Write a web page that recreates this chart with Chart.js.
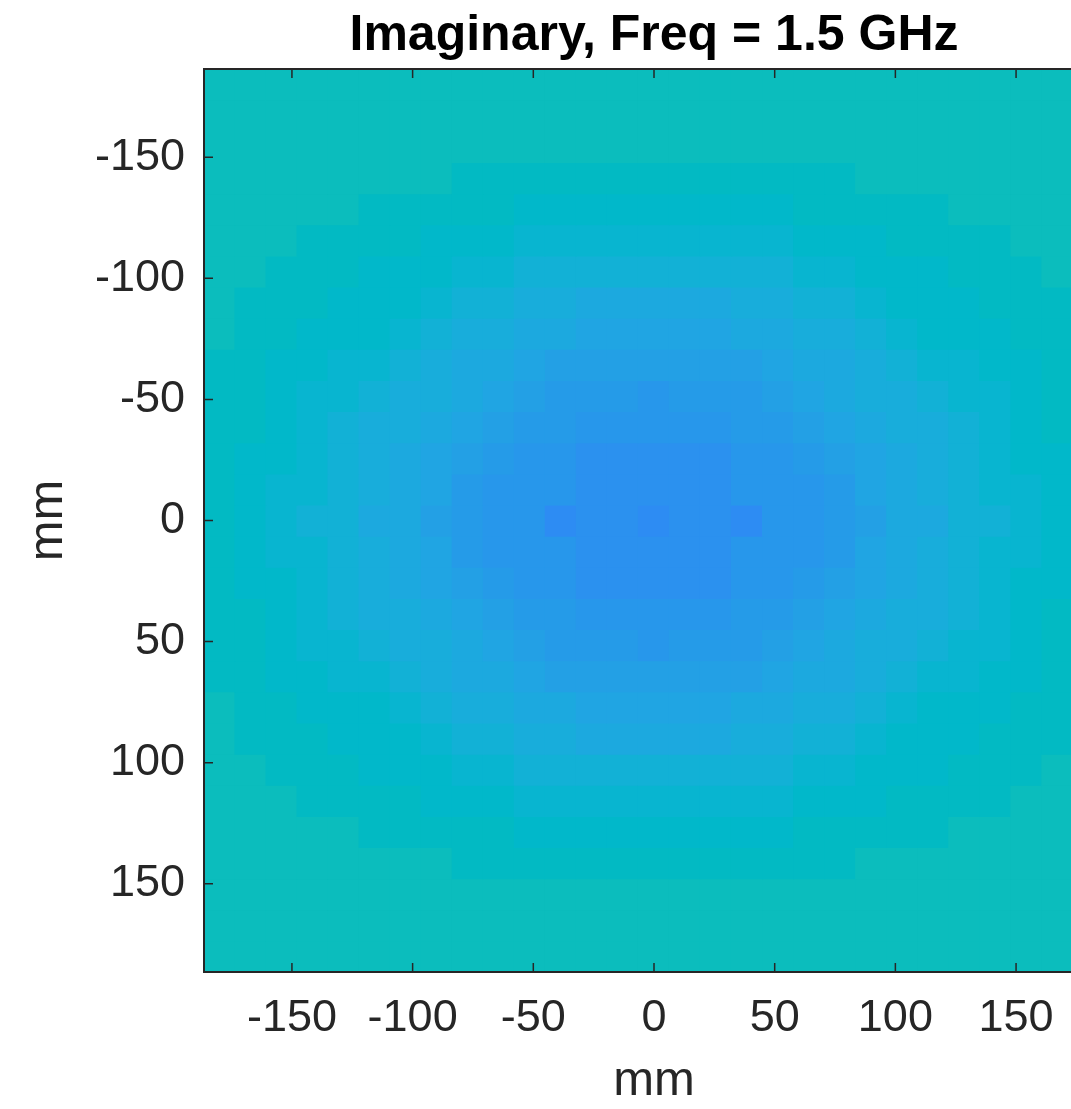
<!DOCTYPE html>
<html>
<head>
<meta charset="utf-8">
<title>Imaginary, Freq = 1.5 GHz</title>
<script src="https://cdn.jsdelivr.net/npm/chart.js@4.4.1/dist/chart.umd.min.js"></script>
<style>
  html, body { margin: 0; padding: 0; overflow: hidden; background: #ffffff; }
  #wrap { width: 1120px; height: 1109px; position: relative; }
</style>
</head>
<body>
<div id="wrap"><canvas id="chart"></canvas></div>
<script>
// grid centres (mm), same along x and y
const xPos = [-180, -167.143, -154.286, -141.429, -128.571, -115.714, -102.857, -90, -77.143, -64.286,
  -51.429, -38.571, -25.714, -12.857, 0, 12.857, 25.714, 38.571, 51.429, 64.286,
  77.143, 90, 102.857, 115.714, 128.571, 141.429, 154.286, 167.143, 180];
const yPos = xPos.slice();

const tickValues = [-150, -100, -50, 0, 50, 100, 150];

// colour index (parula, 1..64) of each cell; rows top to bottom
const imagLevel = [
  [32,32,32,32,32,32,32,32,32,32,32,32,32,32,32,32,32,32,32,32,32,32,32,32,32,32,32,32,32],
  [32,32,32,32,32,32,32,32,32,32,32,32,32,32,32,32,32,32,32,32,32,32,32,32,32,32,32,32,32],
  [32,32,32,32,32,32,32,32,32,32,32,32,32,32,32,32,32,32,32,32,32,32,32,32,32,32,32,32,32],
  [32,32,32,32,32,32,32,32,31,31,31,31,31,31,31,31,31,31,31,31,31,32,32,32,32,32,32,32,32],
  [32,32,32,32,32,31,31,31,31,31,30,30,30,30,30,30,30,30,30,31,31,31,31,31,32,32,32,32,32],
  [32,32,32,31,31,31,31,30,30,30,29,29,29,29,29,29,29,29,29,30,30,30,31,31,31,31,32,32,32],
  [32,32,31,31,31,30,30,30,29,29,28,28,28,28,28,28,28,28,28,29,29,30,30,30,31,31,31,32,32],
  [32,31,31,31,30,30,30,29,28,28,27,27,26,26,26,26,26,27,27,28,28,29,30,30,30,31,31,31,32],
  [32,31,31,30,30,30,29,28,27,27,26,26,25,25,25,25,25,26,26,27,27,28,29,30,30,30,31,31,32],
  [31,31,30,30,29,29,28,27,26,26,25,24,24,24,24,24,24,24,25,26,26,27,28,29,29,30,30,31,31],
  [31,31,30,29,29,28,27,27,26,25,24,23,23,23,22,23,23,23,24,25,26,27,27,28,29,29,30,31,31],
  [31,31,30,29,28,27,27,26,25,24,23,23,22,22,22,22,22,23,23,24,25,26,27,27,28,29,30,31,31],
  [31,30,30,29,28,27,26,25,24,23,22,22,21,21,21,21,21,22,22,23,24,25,26,27,28,29,30,30,31],
  [31,30,29,29,28,27,26,25,23,22,22,22,21,21,21,21,21,22,22,22,23,25,26,27,28,29,29,30,31],
  [31,30,29,28,28,26,26,24,23,22,22,20,21,21,20,21,21,20,22,22,23,24,26,26,28,28,29,30,31],
  [31,30,29,29,28,27,26,25,23,22,22,22,21,21,21,21,21,22,22,22,23,25,26,27,28,29,29,30,31],
  [31,30,30,29,28,27,26,25,24,23,22,22,21,21,21,21,21,22,22,23,24,25,26,27,28,29,30,30,31],
  [31,31,30,29,28,27,27,26,25,24,23,23,22,22,22,22,22,23,23,24,25,26,27,27,28,29,30,31,31],
  [31,31,30,29,29,28,27,27,26,25,24,23,23,23,22,23,23,23,24,25,26,27,27,28,29,29,30,31,31],
  [31,31,30,30,29,29,28,27,26,26,25,24,24,24,24,24,24,24,25,26,26,27,28,29,29,30,30,31,31],
  [32,31,31,30,30,30,29,28,27,27,26,26,25,25,25,25,25,26,26,27,27,28,29,30,30,30,31,31,32],
  [32,31,31,31,30,30,30,29,28,28,27,27,26,26,26,26,26,27,27,28,28,29,30,30,30,31,31,31,32],
  [32,32,31,31,31,30,30,30,29,29,28,28,28,28,28,28,28,28,28,29,29,30,30,30,31,31,31,32,32],
  [32,32,32,31,31,31,31,30,30,30,29,29,29,29,29,29,29,29,29,30,30,30,31,31,31,31,32,32,32],
  [32,32,32,32,32,31,31,31,31,31,30,30,30,30,30,30,30,30,30,31,31,31,31,31,32,32,32,32,32],
  [32,32,32,32,32,32,32,32,31,31,31,31,31,31,31,31,31,31,31,31,31,32,32,32,32,32,32,32,32],
  [32,32,32,32,32,32,32,32,32,32,32,32,32,32,32,32,32,32,32,32,32,32,32,32,32,32,32,32,32],
  [32,32,32,32,32,32,32,32,32,32,32,32,32,32,32,32,32,32,32,32,32,32,32,32,32,32,32,32,32],
  [32,32,32,32,32,32,32,32,32,32,32,32,32,32,32,32,32,32,32,32,32,32,32,32,32,32,32,32,32]
];

// MATLAB parula, 64 entries
const parula = [
  '#3E26A8','#402AB4','#422EC0','#4332CB','#4537D5','#463CDE','#4741E5','#4747EB',
  '#484DF0','#4852F4','#4758F8','#465EFB','#4563FD','#4269FE','#3E6FFF','#3875FE',
  '#327CFC','#2F81FA','#2E87F7','#2D8CF3','#2B91EF','#2797EB','#259BE8','#23A0E5',
  '#20A5E3','#1CA9DF','#18ADDB','#12B1D6','#08B5D0','#01B8CA','#02BAC3','#0BBDBD',
  '#19BFB6','#24C1AE','#2CC4A7','#31C69F','#37C897','#3FCA8E','#4ACB84','#57CC7A',
  '#64CD6F','#72CD64','#81CC59','#8FCB4E','#9DC943','#ABC739','#B9C431','#C5C22A',
  '#D1BF27','#DCBD29','#E6BB2D','#F0BA36','#F8BA3D','#FEBE3C','#FEC338','#FEC934',
  '#FCCF30','#FAD62D','#F7DC2A','#F5E327','#F5E924','#F6EF20','#F7F51B','#F9FB15'
];

const step = xPos[1] - xPos[0];
const half = step / 2;
const xLim = [xPos[0] - half, xPos[xPos.length - 1] + half];
const yLim = [yPos[0] - half, yPos[yPos.length - 1] + half];

const FONT = "'Liberation Sans', Arial, Helvetica, sans-serif";
const AXIS_COLOR = '#262626';

// one floating-bar dataset per image row
const datasets = yPos.map((yv, r) => ({
  data: xPos.map(xv => ({ x: xv, y: [yv - half, yv + half] })),
  backgroundColor: imagLevel[r].map(l => parula[l - 1]),
  borderWidth: 0,
  inflateAmount: 0.6,
  grouped: false,
  barPercentage: 1,
  categoryPercentage: 1
}));

// matlab style box with inward ticks
const matlabAxes = {
  id: 'matlabAxes',
  afterDatasetsDraw(chart) {
    const { ctx, chartArea: a, scales: { x, y } } = chart;
    const len = 9;
    ctx.save();
    ctx.strokeStyle = AXIS_COLOR;
    ctx.lineWidth = 1.5;
    ctx.beginPath();
    x.ticks.forEach(t => {
      const px = x.getPixelForValue(t.value);
      ctx.moveTo(px, a.bottom); ctx.lineTo(px, a.bottom - len);
      ctx.moveTo(px, a.top); ctx.lineTo(px, a.top + len);
    });
    y.ticks.forEach(t => {
      const py = y.getPixelForValue(t.value);
      ctx.moveTo(a.left, py); ctx.lineTo(a.left + len, py);
      ctx.moveTo(a.right, py); ctx.lineTo(a.right - len, py);
    });
    ctx.stroke();
    ctx.lineWidth = 2;
    ctx.strokeRect(a.left, a.top, a.right - a.left, a.bottom - a.top);
    ctx.restore();
  }
};

const setTicks = scale => { scale.ticks = tickValues.map(v => ({ value: v })); };

new Chart(document.getElementById('chart'), {
  type: 'bar',
  data: { datasets },
  plugins: [matlabAxes],
  options: {
    responsive: true,
    maintainAspectRatio: false,
    animation: false,
    layout: { padding: { left: 0, right: 16, top: 0, bottom: 0 } },
    plugins: {
      legend: { display: false },
      tooltip: { enabled: false },
      title: {
        display: true,
        text: 'Imaginary, Freq = 1.5 GHz',
        color: '#000000',
        fullSize: false,
        font: { family: FONT, size: 50, weight: 'bold', lineHeight: 1.2 },
        padding: { top: 6, bottom: 3 }
      }
    },
    scales: {
      x: {
        type: 'linear',
        min: xLim[0],
        max: xLim[1],
        offset: false,
        afterBuildTicks: setTicks,
        afterFit: s => { s.height = 137; },
        grid: { display: false, drawTicks: false },
        border: { display: false },
        ticks: {
          color: AXIS_COLOR,
          padding: 20,
          maxRotation: 0,
          autoSkip: false,
          font: { family: FONT, size: 45 },
          callback: v => String(v)
        },
        title: {
          display: true,
          text: 'mm',
          color: AXIS_COLOR,
          font: { family: FONT, size: 49, lineHeight: 1 },
          padding: { top: 0, bottom: 3 }
        }
      },
      y: {
        type: 'linear',
        reverse: true,
        min: yLim[0],
        max: yLim[1],
        afterBuildTicks: setTicks,
        afterFit: s => { s.width = 204; },
        grid: { display: false, drawTicks: false },
        border: { display: false },
        ticks: {
          color: AXIS_COLOR,
          padding: 19,
          autoSkip: false,
          font: { family: FONT, size: 45 },
          callback: v => String(v)
        },
        title: {
          display: true,
          text: 'mm',
          color: AXIS_COLOR,
          font: { family: FONT, size: 49, lineHeight: 1 },
          padding: { top: 24, bottom: 0 }
        }
      }
    }
  }
});
</script>
</body>
</html>
